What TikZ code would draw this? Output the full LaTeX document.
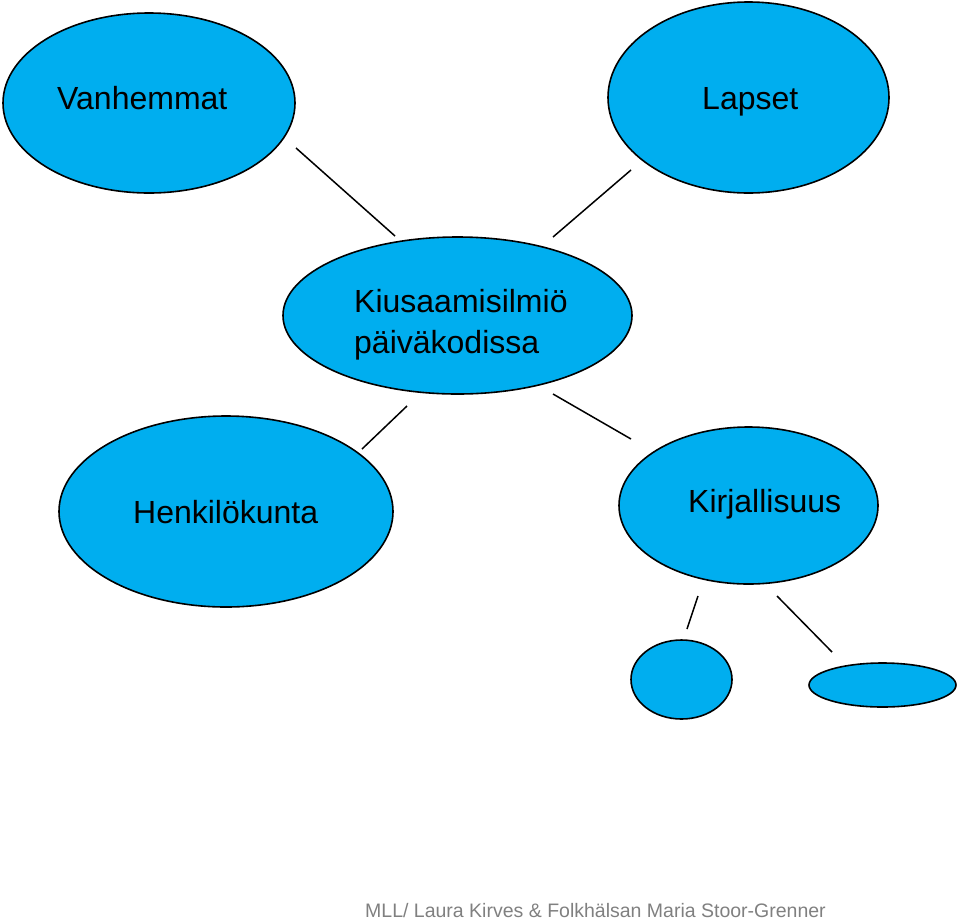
\documentclass[tikz,border=0pt]{standalone}
\usepackage{fontspec}
\setmainfont{Liberation Sans}
\usetikzlibrary{shapes.geometric}
\definecolor{bubble}{RGB}{0,174,239}
\definecolor{footgray}{RGB}{128,128,128}
\tikzset{
  bubblebox/.style={ellipse, draw=black, line width=1.6pt, fill=bubble, inner sep=0pt},
  lbl/.style={font=\fontsize{32}{41}\selectfont, text=black, inner sep=0pt},
  link/.style={draw=black, line width=1.5pt},
}
\begin{document}
\begin{tikzpicture}[x=1pt,y=-1pt]
\useasboundingbox (0,0) rectangle (960,922);
% ellipses
\node[bubblebox, minimum width=292, minimum height=180] (vanh) at (149,103) {};
\node[bubblebox, minimum width=281, minimum height=191] (laps) at (748.5,97.5) {};
\node[bubblebox, minimum width=349, minimum height=157] (kius) at (457.5,315.5) {};
\node[bubblebox, minimum width=334, minimum height=191] (henk) at (226,511.5) {};
\node[bubblebox, minimum width=259, minimum height=157] (kirj) at (748.5,505.5) {};
\node[bubblebox, minimum width=101, minimum height=79] (small1) at (681.5,679.5) {};
\node[bubblebox, minimum width=147, minimum height=44] (small2) at (882.5,685) {};
% labels
\node[lbl, anchor=base west] (tvanh) at (57,109) {Vanhemmat};
\node[lbl, anchor=base west] (tlaps) at (702,109) {Lapset};
\node[lbl, anchor=base west] (tkius) at (354,312) {Kiusaamisilmiö};
\node[lbl, anchor=base west] (tkius2) at (354,353) {päiväkodissa};
\node[lbl, anchor=base west] (thenk) at (133,523) {Henkilökunta};
\node[lbl, anchor=base west] (tkirj) at (688,512) {Kirjallisuus};
% connector ends
\coordinate (a1) at (296,148); \coordinate (a2) at (395,236);
\coordinate (b1) at (631,170); \coordinate (b2) at (553,237);
\coordinate (c1) at (407,406); \coordinate (c2) at (362,449);
\coordinate (d1) at (553,394); \coordinate (d2) at (631,439);
\coordinate (e1) at (698,596); \coordinate (e2) at (687,629);
\coordinate (f1) at (777,596); \coordinate (f2) at (832,652);
\draw[link] (a1) -- (a2);
\draw[link] (b1) -- (b2);
\draw[link] (c1) -- (c2);
\draw[link] (d1) -- (d2);
\draw[link] (e1) -- (e2);
\draw[link] (f1) -- (f2);
% footer
\node[anchor=base west, inner sep=0pt, text=footgray, font=\fontsize{19.5}{21}\selectfont] (foot) at (365,917) {MLL/ Laura Kirves \& Folkhälsan Maria Stoor-Grenner};
\end{tikzpicture}
\end{document}
